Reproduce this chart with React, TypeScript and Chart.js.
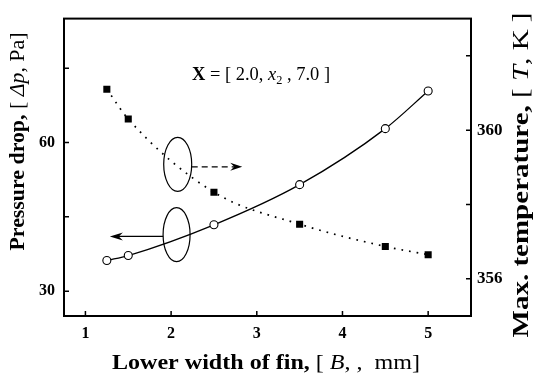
import { useEffect, useRef } from 'react';
import { Chart, registerables } from 'chart.js';

Chart.register(...registerables);

// ---- data ----
const lowerWidth = [1.25, 1.5, 2.5, 3.5, 4.5, 5.0];
const pressureDrop = [36.2, 37.2, 43.4, 51.5, 62.8, 70.4];
const maxTemperature = [361.1, 360.3, 358.33, 357.47, 356.87, 356.65];

const xTicks = [1, 2, 3, 4, 5];
const leftTicks = [30, 45, 60, 75];
const leftLabels = [30, 60];
const rightTicks = [356, 358, 360, 362];
const rightLabels = [356, 360];

// annotation anchors in data units (x, left-axis y)
const tempEllipse = { x: 2.077, y: 55.6 };
const pressureEllipse = { x: 2.064, y: 41.4 };
const tempArrowTip = { x: 2.83, y: 55.1 };
const pressureArrowTip = { x: 1.285, y: 41.05 };
const formulaAnchor = { x: 3.05, y: 72.7 };

const SERIF = '"Liberation Serif", "Times New Roman", serif';

type Run = { text: string; font: string; dy?: number };

function drawRuns(ctx: CanvasRenderingContext2D, runs: Run[], cx: number, cy: number, rot: number, target?: number) {
  ctx.save();
  let total = 0;
  const widths = runs.map((r) => {
    ctx.font = r.font;
    const w = ctx.measureText(r.text).width;
    total += w;
    return w;
  });
  const s = target ? target / total : 1;
  ctx.translate(cx, cy);
  ctx.rotate(rot);
  ctx.scale(s, 1);
  ctx.textBaseline = 'alphabetic';
  ctx.textAlign = 'left';
  ctx.fillStyle = '#000';
  let x = -total / 2;
  runs.forEach((r, i) => {
    ctx.font = r.font;
    ctx.fillText(r.text, x, r.dy || 0);
    x += widths[i];
  });
  ctx.restore();
}

const overlay = {
  id: 'overlay',
  afterDatasetsDraw(chart: any) {
    const ctx: CanvasRenderingContext2D = chart.ctx;
    const { left, right, top, bottom } = chart.chartArea;
    const sx = chart.scales.x;
    const sy = chart.scales.y;
    const sy1 = chart.scales.y1;
    ctx.save();
    ctx.strokeStyle = '#000';
    ctx.fillStyle = '#000';

    // inward tick marks
    ctx.lineWidth = 1.5;
    ctx.beginPath();
    xTicks.forEach((v) => {
      const p = sx.getPixelForValue(v);
      ctx.moveTo(p, bottom);
      ctx.lineTo(p, bottom - 5);
    });
    leftTicks.forEach((v) => {
      const p = sy.getPixelForValue(v);
      ctx.moveTo(left, p);
      ctx.lineTo(left + 5, p);
    });
    rightTicks.forEach((v) => {
      const p = sy1.getPixelForValue(v);
      ctx.moveTo(right, p);
      ctx.lineTo(right - 5, p);
    });
    ctx.stroke();

    // frame
    ctx.lineWidth = 2;
    ctx.strokeRect(left, top, right - left, bottom - top);

    // ellipses
    ctx.lineWidth = 1.2;
    const e1x = sx.getPixelForValue(tempEllipse.x);
    const e1y = sy.getPixelForValue(tempEllipse.y);
    const e2x = sx.getPixelForValue(pressureEllipse.x);
    const e2y = sy.getPixelForValue(pressureEllipse.y);
    ctx.beginPath();
    ctx.ellipse(e1x, e1y, 14, 27, 0, 0, Math.PI * 2);
    ctx.stroke();
    ctx.beginPath();
    ctx.ellipse(e2x, e2y, 13.5, 27, 0, 0, Math.PI * 2);
    ctx.stroke();

    // dashed arrow to the right
    const t1x = sx.getPixelForValue(tempArrowTip.x);
    const t1y = sy.getPixelForValue(tempArrowTip.y);
    ctx.setLineDash([6, 4]);
    ctx.beginPath();
    ctx.moveTo(e1x + 14, t1y);
    ctx.lineTo(t1x - 8, t1y);
    ctx.stroke();
    ctx.setLineDash([]);
    ctx.beginPath();
    ctx.moveTo(t1x, t1y);
    ctx.lineTo(t1x - 12, t1y - 4);
    ctx.lineTo(t1x - 8, t1y);
    ctx.lineTo(t1x - 12, t1y + 4);
    ctx.closePath();
    ctx.fill();

    // solid arrow to the left
    const t2x = sx.getPixelForValue(pressureArrowTip.x);
    const t2y = sy.getPixelForValue(pressureArrowTip.y);
    ctx.beginPath();
    ctx.moveTo(e2x - 13.5, t2y);
    ctx.lineTo(t2x + 6, t2y);
    ctx.stroke();
    ctx.beginPath();
    ctx.moveTo(t2x, t2y);
    ctx.lineTo(t2x + 13, t2y - 4);
    ctx.lineTo(t2x + 9, t2y);
    ctx.lineTo(t2x + 13, t2y + 4);
    ctx.closePath();
    ctx.fill();

    // formula text
    const fx = sx.getPixelForValue(formulaAnchor.x);
    const fy = sy.getPixelForValue(formulaAnchor.y);
    drawRuns(
      ctx,
      [
        { text: 'X', font: `bold 18px ${SERIF}` },
        { text: ' = [ 2.0, ', font: `18px ${SERIF}` },
        { text: 'x', font: `italic 18px ${SERIF}` },
        { text: '2', font: `12px ${SERIF}`, dy: 4 },
        { text: ' , 7.0 ]', font: `18px ${SERIF}` },
      ],
      fx,
      fy,
      0,
      138
    );
    ctx.restore();
  },
  afterDraw(chart: any) {
    const ctx: CanvasRenderingContext2D = chart.ctx;
    // left axis title
    drawRuns(
      ctx,
      [
        { text: 'Pressure drop, ', font: `bold 21px ${SERIF}` },
        { text: '[ ', font: `21px ${SERIF}` },
        { text: 'Δp', font: `italic 21px ${SERIF}` },
        { text: ', Pa]', font: `21px ${SERIF}` },
      ],
      24,
      141.5,
      -Math.PI / 2,
      218
    );
    // right axis title
    drawRuns(
      ctx,
      [
        { text: 'Max. temperature, ', font: `bold 23px ${SERIF}` },
        { text: '[ ', font: `23px ${SERIF}` },
        { text: 'T', font: `italic 23px ${SERIF}` },
        { text: ', K ]', font: `23px ${SERIF}` },
      ],
      528,
      175,
      -Math.PI / 2,
      325
    );
    // x axis title
    drawRuns(
      ctx,
      [
        { text: 'Lower width of fin, ', font: `bold 21px ${SERIF}` },
        { text: '[ ', font: `21px ${SERIF}` },
        { text: 'B', font: `italic 21px ${SERIF}` },
        { text: ', ,  mm]', font: `21px ${SERIF}` },
      ],
      266,
      369,
      0,
      308
    );
  },
};

const tickFont = (size: number) => ({ family: SERIF, size, weight: 'bold' as const });

export default function App() {
  const ref = useRef<HTMLCanvasElement | null>(null);
  useEffect(() => {
    if (!ref.current) return;
    const chart = new Chart(ref.current, {
      type: 'line',
      data: {
        datasets: [
          {
            label: 'Max. temperature',
            data: lowerWidth.map((x, i) => ({ x, y: maxTemperature[i] })),
            yAxisID: 'y1',
            borderColor: '#000',
            borderWidth: 1.7,
            borderDash: [1.7, 6],
            pointStyle: 'rect',
            pointRadius: 5,
            pointBackgroundColor: '#000',
            pointBorderColor: '#000',
            pointBorderWidth: 0,
            cubicInterpolationMode: 'monotone',
            fill: false,
          },
          {
            label: 'Pressure drop',
            data: lowerWidth.map((x, i) => ({ x, y: pressureDrop[i] })),
            yAxisID: 'y',
            borderColor: '#000',
            borderWidth: 1.3,
            pointStyle: 'circle',
            pointRadius: 4,
            pointBackgroundColor: '#fff',
            pointBorderColor: '#000',
            pointBorderWidth: 1.1,
            cubicInterpolationMode: 'monotone',
            fill: false,
          },
        ],
      },
      options: {
        responsive: false,
        animation: false,
        layout: { padding: { top: 12, left: 0, right: 0, bottom: 0 } },
        plugins: { legend: { display: false }, tooltip: { enabled: false } },
        scales: {
          x: {
            type: 'linear',
            min: 0.75,
            max: 5.5,
            afterBuildTicks: (s: any) => {
              s.ticks = xTicks.map((v) => ({ value: v }));
            },
            afterFit: (s: any) => {
              s.height = 64;
            },
            grid: { display: false, drawTicks: false },
            border: { display: false },
            ticks: {
              font: tickFont(16),
              color: '#000',
              padding: 8,
              autoSkip: false,
              maxRotation: 0,
              callback: (v: any) => String(v),
            },
          },
          y: {
            type: 'linear',
            position: 'left',
            min: 25,
            max: 85,
            afterBuildTicks: (s: any) => {
              s.ticks = leftTicks.map((v) => ({ value: v }));
            },
            afterFit: (s: any) => {
              s.width = 64;
            },
            grid: { display: false, drawTicks: false },
            border: { display: false },
            ticks: {
              font: tickFont(16),
              color: '#000',
              padding: 9,
              autoSkip: false,
              callback: (v: any) => (leftLabels.includes(v) ? String(v) : null),
            },
          },
          y1: {
            type: 'linear',
            position: 'right',
            min: 355,
            max: 363,
            afterBuildTicks: (s: any) => {
              s.ticks = rightTicks.map((v) => ({ value: v }));
            },
            afterFit: (s: any) => {
              s.width = 63;
            },
            grid: { display: false, drawTicks: false },
            border: { display: false },
            ticks: {
              font: tickFont(17),
              color: '#000',
              padding: 6,
              autoSkip: false,
              callback: (v: any) => (rightLabels.includes(v) ? String(v) : null),
            },
          },
        },
      },
      plugins: [overlay],
    });
    return () => chart.destroy();
  }, []);
  return (
    <canvas
      ref={ref}
      width={534}
      height={380}
      style={{ position: 'absolute', left: 0, top: 0, display: 'block', background: '#fff' }}
    />
  );
}
